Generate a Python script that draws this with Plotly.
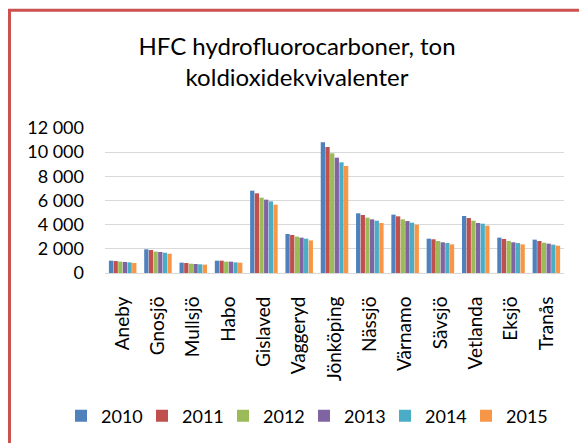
import plotly.graph_objects as go

municipalities = ["Aneby", "Gnosjö", "Mullsjö", "Habo", "Gislaved", "Vaggeryd", "Jönköping",
                  "Nässjö", "Värnamo", "Sävsjö", "Vetlanda", "Eksjö", "Tranås"]
years = ["2010", "2011", "2012", "2013", "2014", "2015"]

v2010 = [1020, 1960, 855, 1020, 6815, 3230, 10815, 4940, 4830, 2840, 4720, 2925, 2760]
v2011 = [990, 1900, 830, 1020, 6595, 3145, 10430, 4800, 4690, 2790, 4550, 2815, 2650]
v2012 = [940, 1770, 770, 940, 6235, 3010, 9905, 4580, 4440, 2650, 4330, 2650, 2510]
v2013 = [910, 1740, 745, 940, 6070, 2925, 9545, 4440, 4300, 2540, 4140, 2540, 2430]
v2014 = [880, 1680, 720, 880, 5930, 2840, 9160, 4330, 4165, 2480, 4080, 2480, 2345]
v2015 = [830, 1600, 690, 855, 5655, 2700, 8855, 4140, 4000, 2370, 3920, 2370, 2260]

series = [v2010, v2011, v2012, v2013, v2014, v2015]
colors = ["#4F81BD", "#C0504D", "#9BBB59", "#8064A2", "#4BACC6", "#F79646"]
y_ticks = [0, 2000, 4000, 6000, 8000, 10000, 12000]

FONT = "Lato"
OFF = 8  # page body margin
W, H = 587 - OFF, 443 - OFF
ML, MR, MT, MB = 105 - OFF, 23, 128 - OFF, 170

fig = go.Figure()
for yr, vals, col in zip(years, series, colors):
    fig.add_trace(go.Bar(name=yr, x=municipalities, y=vals, marker_color=col,
                         marker_line_width=0))

pw = W - ML - MR
ph = H - MT - MB

def px_to_paper_x(px):
    return (px - ML) / pw

def px_to_paper_y(py):
    return (H - MB - py) / ph

fig.update_layout(
    width=W, height=H,
    margin=dict(l=ML, r=MR, t=MT, b=MB, autoexpand=False),
    paper_bgcolor="white", plot_bgcolor="white",
    barmode="group", bargap=0.21, bargroupgap=0.08,
    separators=", ",
    font=dict(family=FONT, color="#000000"),
    title=dict(text="HFC hydrofluorocarboner, ton<br>koldioxidekvivalenter",
               font=dict(family=FONT, size=24, color="#000000"),
               x=(297 - OFF) / W, xanchor="center", xref="container",
               y=1 - 47 / H, yanchor="top", yref="container"),
    xaxis=dict(tickangle=-90, tickfont=dict(family=FONT, size=19, color="#000000"),
               showgrid=False, showline=True, linecolor="#D9D9D9", linewidth=1,
               ticks="", ticklabelstandoff=15),
    yaxis=dict(range=[0, 12000], tickvals=y_ticks, tickformat=",d",
               tickfont=dict(family=FONT, size=18, color="#000000"),
               showgrid=True, gridcolor="#D9D9D9", gridwidth=1,
               zeroline=False, showline=False, ticks="", ticklabelstandoff=20),
    legend=dict(orientation="h", xref="paper", yref="paper",
                x=px_to_paper_x(61 - OFF), xanchor="left",
                y=px_to_paper_y(416 - OFF), yanchor="middle",
                font=dict(family=FONT, size=18, color="#000000"),
                entrywidth=36, entrywidthmode="pixels",
                traceorder="normal", itemclick=False),
    showlegend=True,
    shapes=[dict(type="rect", xref="paper", yref="paper",
                 x0=px_to_paper_x(1.5), x1=px_to_paper_x(620),
                 y0=px_to_paper_y(480), y1=px_to_paper_y(2.3),
                 line=dict(color="#CC5250", width=3), fillcolor="rgba(0,0,0,0)",
                 layer="above")],
)

fig.write_html("out.html")
